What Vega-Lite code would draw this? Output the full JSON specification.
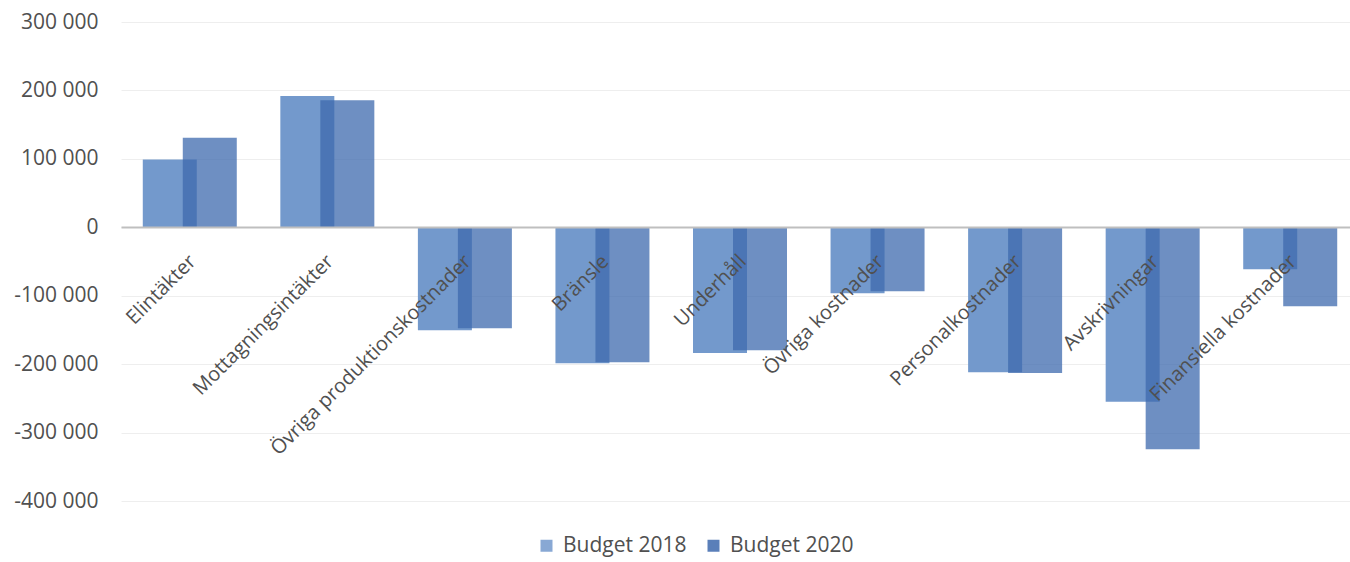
{
  "$schema": "https://vega.github.io/schema/vega-lite/v6.json",
  "autosize": "none",
  "width": 1229,
  "height": 479,
  "padding": {"left": 121, "top": 22, "right": 0, "bottom": 61},
  "background": "white",
  "data": {
    "values": [
      {"category": "Elintäkter", "series": "Budget 2018", "value": 99000},
      {"category": "Elintäkter", "series": "Budget 2020", "value": 131000},
      {"category": "Mottagningsintäkter", "series": "Budget 2018", "value": 192000},
      {"category": "Mottagningsintäkter", "series": "Budget 2020", "value": 185500},
      {"category": "Övriga produktionskostnader", "series": "Budget 2018", "value": -150500},
      {"category": "Övriga produktionskostnader", "series": "Budget 2020", "value": -147600},
      {"category": "Bränsle", "series": "Budget 2018", "value": -198700},
      {"category": "Bränsle", "series": "Budget 2020", "value": -197300},
      {"category": "Underhåll", "series": "Budget 2018", "value": -183600},
      {"category": "Underhåll", "series": "Budget 2020", "value": -179600},
      {"category": "Övriga kostnader", "series": "Budget 2018", "value": -96500},
      {"category": "Övriga kostnader", "series": "Budget 2020", "value": -93500},
      {"category": "Personalkostnader", "series": "Budget 2018", "value": -212000},
      {"category": "Personalkostnader", "series": "Budget 2020", "value": -213000},
      {"category": "Avskrivningar", "series": "Budget 2018", "value": -255000},
      {"category": "Avskrivningar", "series": "Budget 2020", "value": -324500},
      {"category": "Finansiella kostnader", "series": "Budget 2018", "value": -61500},
      {"category": "Finansiella kostnader", "series": "Budget 2020", "value": -115500}
    ]
  },
  "encoding": {
    "x": {
      "field": "category",
      "type": "nominal",
      "sort": null,
      "scale": {"range": [0, 1238], "paddingInner": 0, "paddingOuter": 0},
      "axis": {
        "title": null,
        "orient": "bottom",
        "offset": -274,
        "zindex": 1,
        "ticks": false,
        "grid": false,
        "domainColor": "#bfbfbf",
        "domainWidth": 2,
        "labelAngle": -45,
        "labelAlign": "right",
        "labelBaseline": "middle",
        "labelPadding": 31,
        "labelOffset": 3,
        "labelFont": "Open Sans",
        "labelFontSize": 20,
        "labelColor": "#505050",
        "labelOverlap": false,
        "labelLimit": 400
      }
    },
    "y": {
      "field": "value",
      "type": "quantitative",
      "scale": {"domain": [-400000, 300000], "nice": false, "zero": true},
      "axis": {
        "title": null,
        "values": [-400000, -300000, -200000, -100000, 0, 100000, 200000, 300000],
        "format": ",d",
        "domain": false,
        "ticks": false,
        "zindex": 0,
        "grid": true,
        "gridColor": "#eeeeee",
        "gridWidth": 1,
        "labelPadding": 23,
        "labelFont": "Open Sans",
        "labelFontSize": 21,
        "labelColor": "#505050"
      }
    },
    "color": {
      "field": "series",
      "type": "nominal",
      "scale": {"domain": ["Budget 2018", "Budget 2020"], "range": ["#7399cc", "#3d69ad"]},
      "legend": {
        "title": null,
        "orient": "none",
        "direction": "horizontal",
        "legendX": 415,
        "legendY": 513,
        "symbolType": "square",
        "symbolSize": 144,
        "symbolStrokeWidth": 0,
        "symbolOpacity": 0.85,
        "labelFont": "Open Sans",
        "labelFontSize": 21,
        "labelColor": "#505050",
        "labelOffset": 6,
        "columnPadding": 16
      }
    }
  },
  "layer": [
    {
      "transform": [{"filter": "datum.series === 'Budget 2018'"}],
      "mark": {"type": "bar", "width": 54, "xOffset": -20, "opacity": 1}
    },
    {
      "transform": [{"filter": "datum.series === 'Budget 2020'"}],
      "mark": {"type": "bar", "width": 54, "xOffset": 20, "opacity": 0.75}
    }
  ],
  "config": {
    "view": {"stroke": null},
    "locale": {
      "number": {
        "decimal": ",",
        "thousands": " ",
        "grouping": [3],
        "currency": ["", " kr"],
        "minus": "-"
      }
    }
  }
}
